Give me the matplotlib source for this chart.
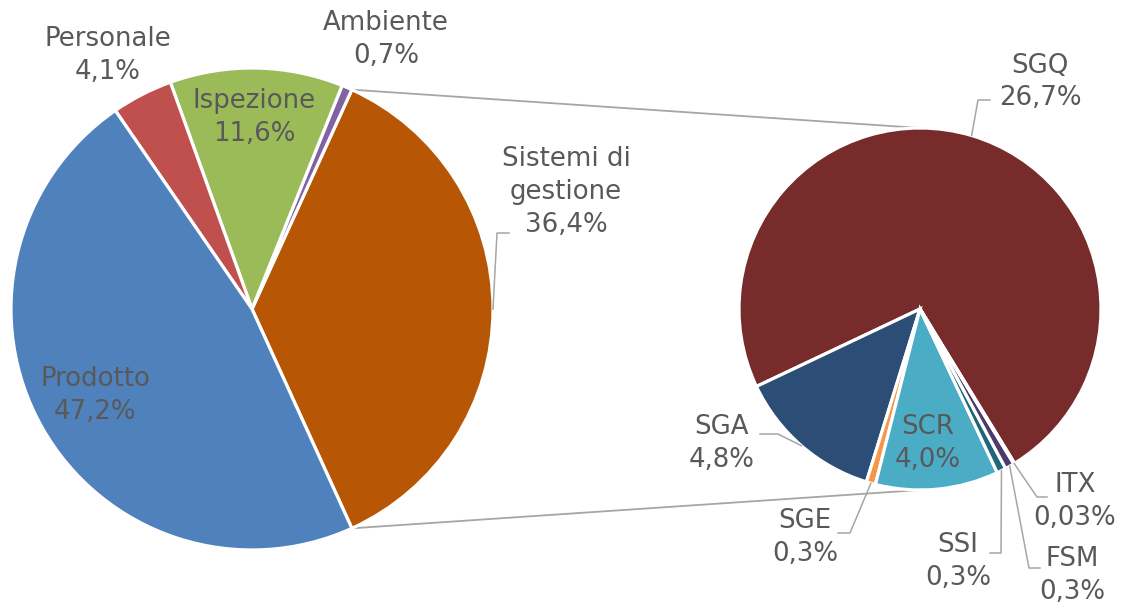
import numpy as np
import matplotlib
matplotlib.use("Agg")
import matplotlib.pyplot as plt

# ---------------- data ----------------
main_labels = ["Sistemi di\ngestione", "Ambiente", "Ispezione", "Personale", "Prodotto"]
main_values = [36.4, 0.7, 11.6, 4.1, 47.2]
main_colors = ["#B75706", "#8064A2", "#9BBB59", "#C0504D", "#4F81BD"]

sub_labels = ["SGQ", "SGA", "SGE", "SCR", "SSI", "FSM", "ITX"]
sub_values = [26.7, 4.8, 0.3, 4.0, 0.3, 0.3, 0.03]
sub_colors = ["#772B2B", "#2C4D75", "#F79646", "#4BACC6", "#1F6677", "#4B3A6B", "#7A8FB0"]

# ---------------- layout (pixel space) ----------------
W, H = 1122, 602
TXT = "#595959"
LEAD = "#A6A6A6"
FS = 18.7

def P(x, y):
    return (x, H - y)

main_c, main_r = (252, 309), 241
sub_c, sub_r = (920, 309), 181

# label centres and leader elbows (pixels); None -> no leader
main_lab_pos = {
    "Sistemi di\ngestione": ((566, 192), [(497, 233), (509, 233)]),
    "Ambiente": ((386, 39), None),
    "Ispezione": ((254, 118), None),
    "Personale": ((108, 55), None),
    "Prodotto": ((95, 396), None),
}
sub_lab_pos = {
    "SGQ": ((1040, 82), [(978, 100), (990, 100)]),
    "SGA": ((722, 444), [(778, 434), (760, 434)]),
    "SGE": ((805, 538), [(850, 533), (838, 533)]),
    "SCR": ((928, 444), None),
    "SSI": ((958, 561), [(1001, 553), (990, 553)]),
    "FSM": ((1072, 575), [(1029, 568), (1040, 568)]),
    "ITX": ((1075, 502), [(1037, 497), (1047, 497)]),
}

def fmt(v):
    s = f"{v:.2f}" if v < 0.1 else f"{v:.1f}"
    return s.replace(".", ",") + "%"

fig = plt.figure(figsize=(W / 100, H / 100), dpi=100)
ax = fig.add_axes([0, 0, 1, 1])
ax.set_xlim(0, W)
ax.set_ylim(0, H)
ax.set_aspect("equal")
ax.axis("off")

# main pie: split slice centred on 3 o'clock
main_start = -main_values[0] / sum(main_values) * 360 / 2
w1, _ = ax.pie(main_values, colors=main_colors, startangle=main_start,
               counterclock=True, center=P(*main_c), radius=main_r,
               wedgeprops=dict(edgecolor="white", linewidth=2.3), frame=True)

# sub pie
sub_start = -58.5
w2, _ = ax.pie(sub_values, colors=sub_colors, startangle=sub_start,
               counterclock=True, center=P(*sub_c), radius=sub_r,
               wedgeprops=dict(edgecolor="white", linewidth=2.3), frame=True)
ax.set_xlim(0, W)
ax.set_ylim(0, H)
ax.axis("off")

# connector lines from split slice edges to sub pie top / bottom
split = w1[0]
for ang, sy in ((split.theta2, sub_c[1] - sub_r), (split.theta1, sub_c[1] + sub_r)):
    cx, cy = P(*main_c)
    x0 = cx + main_r * np.cos(np.radians(ang))
    y0 = cy + main_r * np.sin(np.radians(ang))
    x1, y1 = P(sub_c[0], sy)
    ax.plot([x0, x1], [y0, y1], color=LEAD, lw=1.3, zorder=0, solid_capstyle="butt")

def draw_labels(wedges, labels, values, center, radius, posmap):
    cx, cy = P(*center)
    for w, lab, v in zip(wedges, labels, values):
        (tx, ty), elbow = posmap[lab]
        ax.text(*P(tx, ty), f"{lab}\n{fmt(v)}", ha="center", va="center",
                fontsize=FS, color=TXT, linespacing=1.35, zorder=5)
        if elbow is not None:
            mid = np.radians((w.theta1 + w.theta2) / 2)
            xs = [cx + radius * np.cos(mid)] + [P(*e)[0] for e in elbow]
            ys = [cy + radius * np.sin(mid)] + [P(*e)[1] for e in elbow]
            ax.plot(xs, ys, color=LEAD, lw=1.1, zorder=4)

draw_labels(w1, main_labels, main_values, main_c, main_r, main_lab_pos)
draw_labels(w2, sub_labels, sub_values, sub_c, sub_r, sub_lab_pos)

fig.savefig("out.png", dpi=100)
